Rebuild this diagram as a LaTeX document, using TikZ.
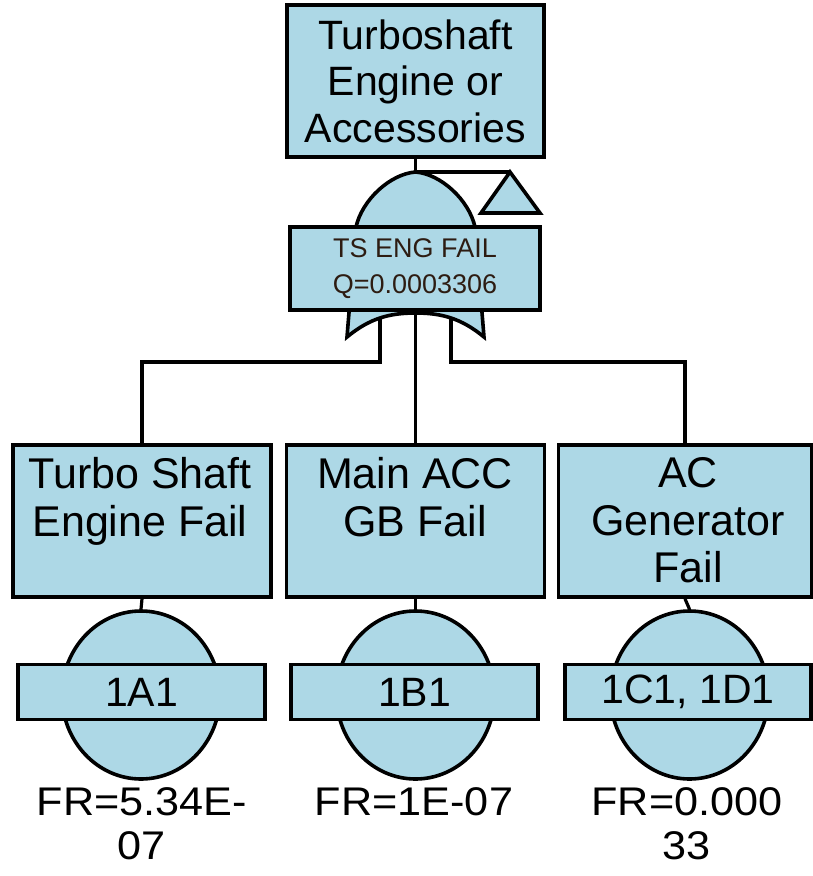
\documentclass[tikz,border=0pt]{standalone}
\usepackage{fontspec}
\setmainfont{Liberation Sans}
\newfontfamily\frfont{Liberation Sans}[FakeStretch=1.08]
\usetikzlibrary{shapes.geometric}
\definecolor{fillblue}{RGB}{173,216,230}
\definecolor{gatetext}{RGB}{45,28,18}
\begin{document}
\begin{tikzpicture}[x=1pt,y=-1pt,line width=3.6pt,line join=miter,
  box/.style={draw,fill=fillblue,rectangle,inner sep=0pt},
  toptext/.style={font=\fontsize{41}{46.7}\selectfont,align=center,inner sep=0pt,anchor=north},
  bigtext/.style={font=\fontsize{43}{47.5}\selectfont,align=center,inner sep=0pt,anchor=north},
  frtext/.style={font=\frfont\fontsize{40}{44}\selectfont,align=center,inner sep=0pt,anchor=north},
  gtext/.style={font=\fontsize{27}{36}\selectfont,align=center,inner sep=0pt,anchor=north,text=gatetext},
  basic/.style={draw,fill=fillblue,ellipse,inner sep=0pt,minimum width=158pt,minimum height=168pt},
  tag/.style={box,minimum width=247pt,minimum height=55pt,font=\fontsize{41}{47}\selectfont},
  evbox/.style={box,minimum width=258pt,minimum height=152pt},
  conn/.style={draw,line width=3.2pt}]
\useasboundingbox (0,0) rectangle (813,876);

% top event
\node[box,minimum width=257pt,minimum height=152pt] (top) at (415.5,81) {};
\node[toptext] (toptxt) at (415.5,17.5) {Turboshaft\\Engine or\\Accessories};

% gate coordinates
\coordinate (gtop) at (415.5,172);
\coordinate (tri) at (510,172);
\coordinate (gl) at (380,318);
\coordinate (gm) at (415.5,313);
\coordinate (gr) at (451,318);

% bottom events
\node[evbox] (b1) at (142,521) {};
\node[evbox] (b2) at (415.5,521) {};
\node[evbox,minimum width=253pt] (b3) at (685,521) {};
\node[bigtext] (t1) at (140,456) {Turbo Shaft\\Engine Fail};
\node[bigtext] (t2) at (415,456) {Main ACC\\GB Fail};
\node[bigtext] (t3) at (688,456) {AC\\Generator\\Fail};

% connectors
\draw[conn] (top.south) -- (gtop);
\draw[conn] (gtop) -- (tri);
\draw[conn] (gl) -- ++(0,44) -| (b1.north);
\draw[conn] (gm) -- (b2.north);
\draw[conn] (gr) -- ++(0,44) -| (b3.north);

% OR gate
\draw[fill=fillblue] (347,337) -- (356,227)
  .. controls (362,200) and (390,174) .. (gtop)
  .. controls (441,174) and (469,200) .. (475,227)
  -- (484,337)
  .. controls (461,318) and (441,313) .. (gm)
  .. controls (390,313) and (370,318) .. (347,337) -- cycle;
\node[box,minimum width=250pt,minimum height=83pt] (gbox) at (415,268.5) {};
\node[gtext] (gtxt) at (415,237) {TS ENG FAIL\\Q=0.0003306};

% transfer triangle
\draw[fill=fillblue] (tri) -- (540,213) -- (481,213) -- cycle;

% basic events
\node[basic] (e1) at (141,695) {};
\node[basic] (e2) at (415.5,695) {};
\node[basic] (e3) at (689.5,695) {};
\draw[conn] (b1.south) -- (e1.north);
\draw[conn] (b2.south) -- (e2.north);
\draw[conn] (b3.south) -- (e3.north);
\node[tag] (l1) at (141.5,692) {1A1};
\node[tag] (l2) at (414.5,692) {1B1};
\node[tag,minimum width=246pt] (l3) at (688,692) {1C1, 1D1};

\node[frtext] (f1) at (142,786) {FR=5.34E-\\07};
\node[frtext] (f2) at (414,786) {FR=1E-07};
\node[frtext] (f3) at (687,786) {FR=0.000\\33};
\end{tikzpicture}
\end{document}
